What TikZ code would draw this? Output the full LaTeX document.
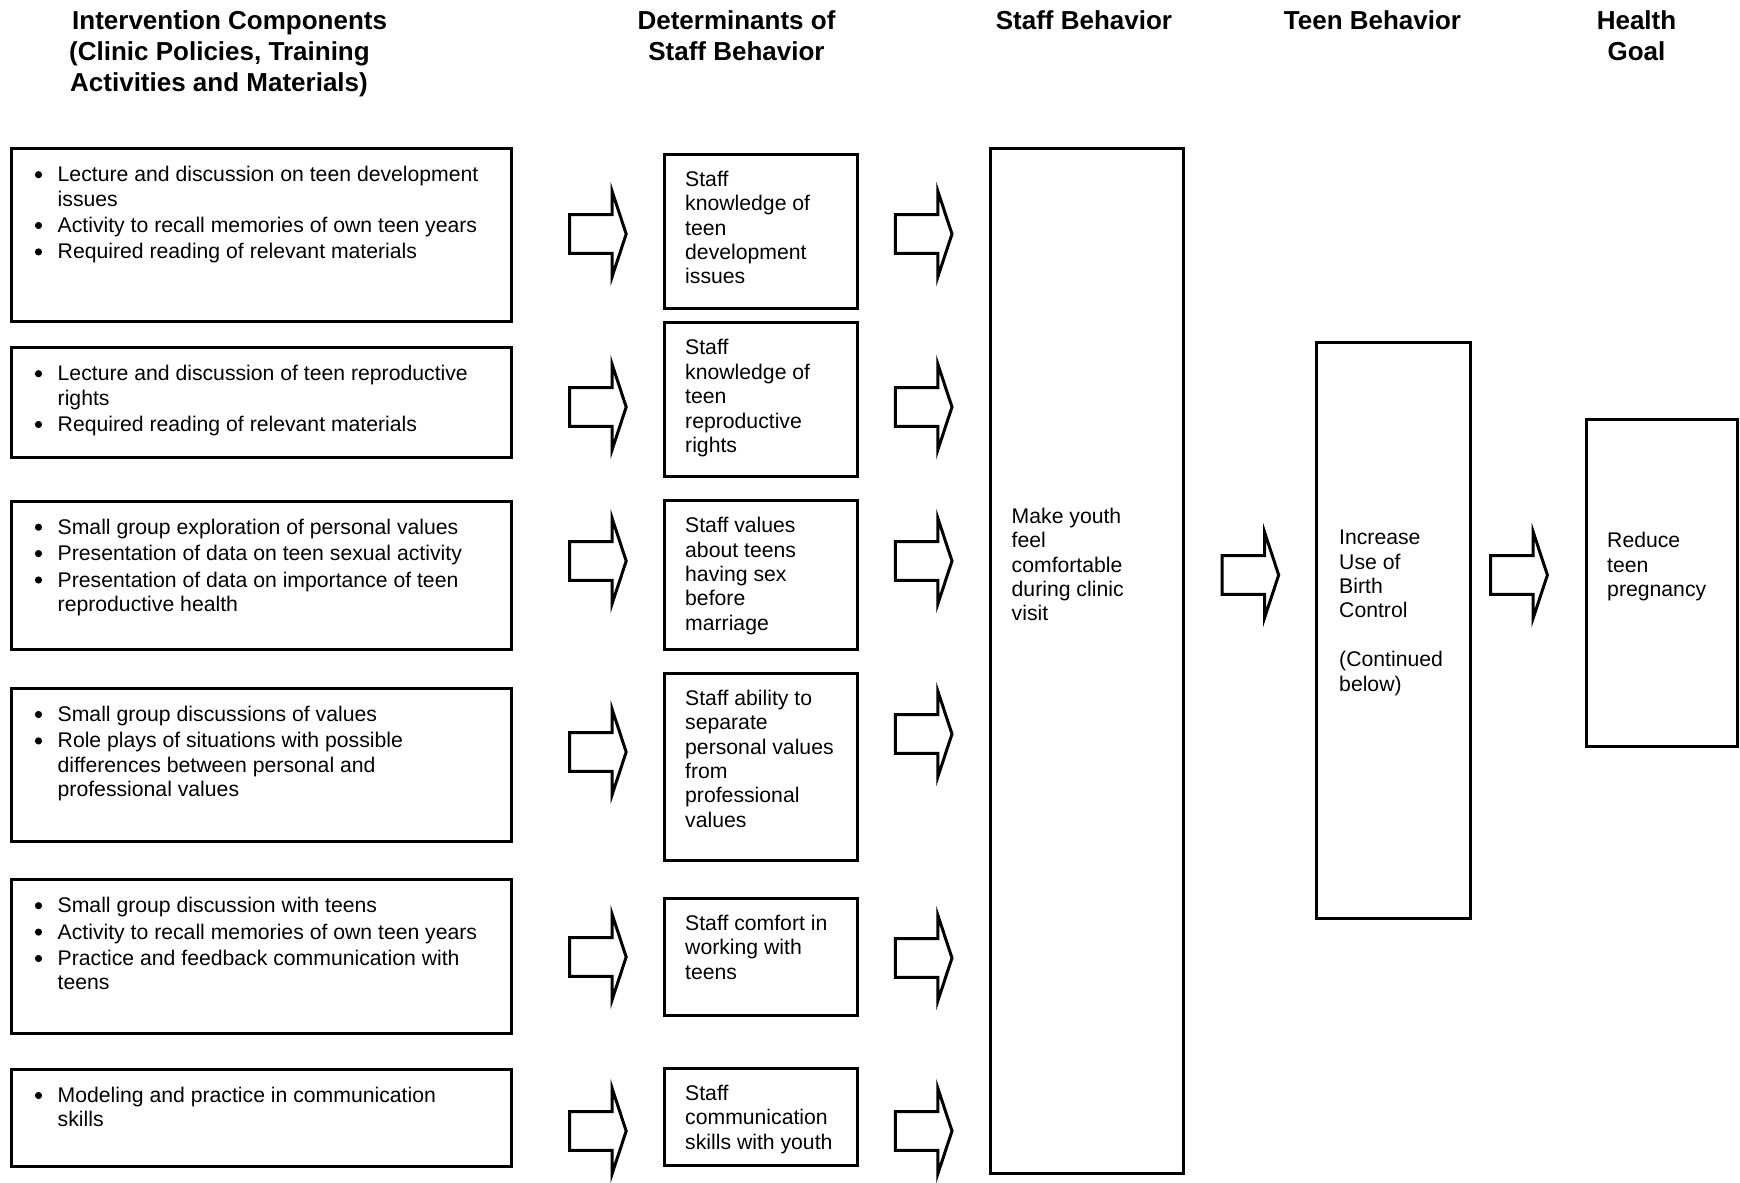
\documentclass[tikz,border=0pt]{standalone}
\usepackage{fontspec}
\setmainfont{Liberation Sans}

% first-line strut: fixes the distance from a text node's top to its first baseline
\newcommand\firstline{\rule{0pt}{20pt}}
\newcommand\headline{\rule{0pt}{25pt}}
% round list bullet drawn as a filled dot, with a hanging text start
\newcommand\bltdot{\begin{pgfpicture}\pgfsetbaseline{0pt}%
  \pgfpathcircle{\pgfpoint{3.6pt}{7pt}}{3.6pt}\pgfusepath{fill}\end{pgfpicture}}
\newcommand\blt{\makebox[24.5pt][l]{\hspace*{1.7pt}\bltdot}}
\newcommand\cont{\hspace*{24.5pt}}

\tikzset{
  box/.style={draw, line width=3pt, inner sep=0pt, anchor=north west},
  body/.style={font=\fontsize{21.2}{24.4}\selectfont, align=left, anchor=north west, inner sep=0pt},
  head/.style={font=\fontsize{26}{31}\selectfont\bfseries, align=center, anchor=north, inner sep=0pt},
  arrowline/.style={draw, line width=3pt, line join=miter, fill=white},
  blockarrow/.pic={\path[arrowline] (0,-19.3) -- (42.5,-19.3) -- (42.5,-43) -- (56.7,0)
                     -- (42.5,43) -- (42.5,19.3) -- (0,19.3) -- cycle;}
}

\begin{document}
\begin{tikzpicture}[x=1pt, y=-1pt]
\useasboundingbox (0,0) rectangle (1740,1183);

% column headings
\node[head, align=left, anchor=north west] (h1) at (69,4.5)
  {\headline\hspace*{3pt}Intervention Components\\(Clinic Policies, Training\\\hspace*{1pt}Activities and Materials)};
\node[head] (h2) at (736.5,4.5) {\headline Determinants of\\Staff Behavior};
\node[head] (h3) at (1084,4.5) {\headline Staff Behavior};
\node[head] (h4) at (1372.5,4.5) {\headline Teen Behavior};
\node[head] (h5) at (1636.5,4.5) {\headline Health\\Goal};

% intervention components
\node[box, minimum width=500pt, minimum height=173pt]   (B1) at (10.2,147) {};
\node[box, minimum width=500pt, minimum height=109.5pt] (B2) at (10.2,346) {};
\node[box, minimum width=500pt, minimum height=148.3pt] (B3) at (10.2,499.5) {};
\node[box, minimum width=500pt, minimum height=152.7pt] (B4) at (10.2,686.8) {};
\node[box, minimum width=500pt, minimum height=153.5pt] (B5) at (10.2,878) {};
\node[box, minimum width=500pt, minimum height=96.7pt]  (B6) at (10.2,1067.8) {};

\node[body] (B1t) at ([shift={(22.8,14.5)}]B1.north west)
  {\firstline\blt Lecture and discussion on teen development\\\cont issues\\[2pt]
   \blt Activity to recall memories of own teen years\\[2pt]
   \blt Required reading of relevant materials};
\node[body] (B2t) at ([shift={(22.8,14.5)}]B2.north west)
  {\firstline\blt Lecture and discussion of teen reproductive\\\cont rights\\[2pt]
   \blt Required reading of relevant materials};
\node[body] (B3t) at ([shift={(22.8,14.5)}]B3.north west)
  {\firstline\blt Small group exploration of personal values\\[2pt]
   \blt Presentation of data on teen sexual activity\\[2pt]
   \blt Presentation of data on importance of teen\\\cont reproductive health};
\node[body] (B4t) at ([shift={(22.8,14.5)}]B4.north west)
  {\firstline\blt Small group discussions of values\\[2pt]
   \blt Role plays of situations with possible\\\cont differences between personal and\\\cont professional values};
\node[body] (B5t) at ([shift={(22.8,14.5)}]B5.north west)
  {\firstline\blt Small group discussion with teens\\[2pt]
   \blt Activity to recall memories of own teen years\\[2pt]
   \blt Practice and feedback communication with\\\cont teens};
\node[body] (B6t) at ([shift={(22.8,14.5)}]B6.north west)
  {\firstline\blt Modeling and practice in communication\\\cont skills};

% determinants of staff behavior
\node[box, minimum width=193pt, minimum height=154pt]   (M1) at (662.5,152.5) {};
\node[box, minimum width=193pt, minimum height=154pt]   (M2) at (662.5,321.2) {};
\node[box, minimum width=193pt, minimum height=148.5pt] (M3) at (662.5,499) {};
\node[box, minimum width=193pt, minimum height=187.7pt] (M4) at (662.5,671.5) {};
\node[box, minimum width=193pt, minimum height=117pt]   (M5) at (662.5,896.5) {};
\node[box, minimum width=193pt, minimum height=96.7pt]  (M6) at (662.5,1066.8) {};

\node[body] (M1t) at ([shift={(22.5,13.5)}]M1.north west)
  {\firstline Staff\\knowledge of\\teen\\development\\issues};
\node[body] (M2t) at ([shift={(22.5,13.5)}]M2.north west)
  {\firstline Staff\\knowledge of\\teen\\reproductive\\rights};
\node[body] (M3t) at ([shift={(22.5,13.5)}]M3.north west)
  {\firstline Staff values\\about teens\\having sex\\before\\marriage};
\node[body] (M4t) at ([shift={(22.5,13.5)}]M4.north west)
  {\firstline Staff ability to\\separate\\personal values\\from\\professional\\values};
\node[body] (M5t) at ([shift={(22.5,13.5)}]M5.north west)
  {\firstline Staff comfort in\\working with\\teens};
\node[body] (M6t) at ([shift={(22.5,13.5)}]M6.north west)
  {\firstline Staff\\communication\\skills with youth};

% staff behavior, teen behavior, health goal
\node[box, minimum width=192.5pt, minimum height=1025pt] (S) at (989,146.5) {};
\node[body] (St) at ([shift={(22.5,356.5)}]S.north west)
  {\firstline Make youth\\feel\\comfortable\\during clinic\\visit};

\node[box, minimum width=153.5pt, minimum height=576pt] (T) at (1315,340.5) {};
\node[body] (Tt) at ([shift={(24,184)}]T.north west)
  {\firstline Increase\\Use of\\Birth\\Control\\[24.4pt](Continued\\below)};

\node[box, minimum width=151.5pt, minimum height=327pt] (G) at (1584.5,417.5) {};
\node[body] (Gt) at ([shift={(22.5,110)}]G.north west)
  {\firstline Reduce\\teen\\pregnancy};

% block arrows between the columns
\pic (a11) at (569.5,234)  {blockarrow};
\pic (a12) at (569.5,407)  {blockarrow};
\pic (a13) at (569.5,561)  {blockarrow};
\pic (a14) at (569.5,752)  {blockarrow};
\pic (a15) at (569.5,957)  {blockarrow};
\pic (a16) at (569.5,1131) {blockarrow};

\pic (a21) at (895.3,234)  {blockarrow};
\pic (a22) at (895.3,407)  {blockarrow};
\pic (a23) at (895.3,561)  {blockarrow};
\pic (a24) at (895.3,734)  {blockarrow};
\pic (a25) at (895.3,958)  {blockarrow};
\pic (a26) at (895.3,1131) {blockarrow};

\pic (a3) at (1222,575)   {blockarrow};
\pic (a4) at (1490.7,575) {blockarrow};
\end{tikzpicture}
\end{document}
